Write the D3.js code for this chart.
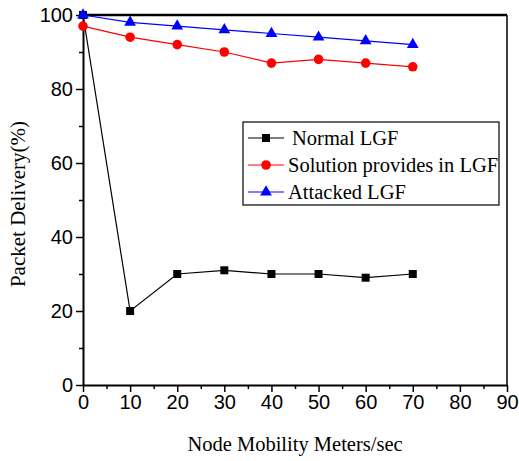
<!DOCTYPE html>
<html>
<head>
<meta charset="utf-8">
<script src="https://cdn.jsdelivr.net/npm/d3@7"></script>
<style>
  body { margin: 0; background: #fff; }
</style>
</head>
<body>
<div id="chart"></div>
<script>
// data
const speeds = [0, 10, 20, 30, 40, 50, 60, 70];
const normalLGF = [100, 20, 30, 31, 30, 30, 29, 30];
const solutionLGF = [97, 94, 92, 90, 87, 88, 87, 86];
const attackedLGF = [100, 98, 97, 96, 95, 94, 93, 92];
const seriesNames = ['Normal LGF', 'Solution provides in LGF', 'Attacked LGF'];
const xTicks = [0, 10, 20, 30, 40, 50, 60, 70, 80, 90];
const yTicks = [0, 20, 40, 60, 80, 100];

const width = 519, height = 461;
const margin = { top: 15, right: 12, bottom: 76, left: 83 };
const w = width - margin.left - margin.right;
const h = height - margin.top - margin.bottom;
const serif = '"Liberation Serif", "Times New Roman", serif';

const svg = d3.select('#chart').append('svg')
  .attr('width', width)
  .attr('height', height);

const g = svg.append('g')
  .attr('transform', `translate(${margin.left},${margin.top})`);

const x = d3.scaleLinear().domain([0, 90]).range([0, w]);
const y = d3.scaleLinear().domain([0, 100]).range([h, 0]);

// frame: thick top, thin right
g.append('line').attr('x1', 0).attr('x2', w).attr('y1', 0).attr('y2', 0)
  .attr('stroke', '#000').attr('stroke-width', 2.5);
g.append('line').attr('x1', w).attr('x2', w).attr('y1', 0).attr('y2', h)
  .attr('stroke', '#000').attr('stroke-width', 1.5);

// minor ticks
g.append('g')
  .attr('transform', `translate(0,${h})`)
  .call(d3.axisBottom(x).tickValues(d3.range(5, 90, 10)).tickSize(4).tickFormat(''))
  .call(a => a.select('.domain').remove());
g.append('g')
  .call(d3.axisLeft(y).tickValues(d3.range(10, 100, 20)).tickSize(4).tickFormat(''))
  .call(a => a.select('.domain').remove());

const xAxis = g.append('g')
  .attr('transform', `translate(0,${h})`)
  .call(d3.axisBottom(x).tickValues(xTicks).tickSize(7).tickPadding(3).tickSizeOuter(0));
xAxis.select('.domain').attr('stroke-width', 2);

const yAxis = g.append('g')
  .call(d3.axisLeft(y).tickValues(yTicks).tickSize(7).tickPadding(3).tickSizeOuter(0));
yAxis.select('.domain').attr('stroke-width', 2);

svg.selectAll('.tick line').attr('stroke-width', 1.5);
svg.selectAll('.tick text')
  .attr('font-family', 'Arial, "Liberation Sans", sans-serif')
  .attr('font-size', 20)
  .attr('fill', '#000');

// axis titles
svg.append('text')
  .attr('x', margin.left + x(45))
  .attr('y', 451)
  .attr('text-anchor', 'middle')
  .attr('font-family', serif)
  .attr('font-size', 20.5)
  .text('Node Mobility Meters/sec');

svg.append('text')
  .attr('transform', 'translate(25,204) rotate(-90)')
  .attr('text-anchor', 'middle')
  .attr('font-family', serif)
  .attr('font-size', 21)
  .text('Packet Delivery(%)');

const series = [
  { name: seriesNames[0], values: normalLGF, color: '#000', symbol: d3.symbolSquare, size: 64 },
  { name: seriesNames[1], values: solutionLGF, color: '#ff0000', symbol: d3.symbolCircle, size: 72 },
  { name: seriesNames[2], values: attackedLGF, color: '#0000ff', symbol: d3.symbolTriangle, size: 60 },
];

const line = d3.line()
  .x((d, i) => x(speeds[i]))
  .y(d => y(d));

series.forEach(s => {
  g.append('path')
    .datum(s.values)
    .attr('fill', 'none')
    .attr('stroke', s.color)
    .attr('stroke-width', 1.2)
    .attr('d', line);
});

series.forEach(s => {
  g.selectAll(null)
    .data(s.values)
    .enter()
    .append('path')
    .attr('d', d3.symbol().type(s.symbol).size(s.size))
    .attr('fill', s.color)
    .attr('transform', (d, i) => `translate(${x(speeds[i])},${y(d)})`);
});

// legend
const legend = svg.append('g').attr('transform', 'translate(243,122)');
legend.append('rect')
  .attr('width', 256).attr('height', 83)
  .attr('fill', '#fff').attr('stroke', '#000').attr('stroke-width', 1.2);

series.forEach((s, i) => {
  const row = legend.append('g').attr('transform', `translate(0,${16 + i * 27})`);
  row.append('line')
    .attr('x1', 5).attr('x2', 41)
    .attr('stroke', s.color).attr('stroke-width', 1.2);
  row.append('path')
    .attr('d', d3.symbol().type(s.symbol).size(s.size))
    .attr('fill', s.color)
    .attr('transform', 'translate(23,0)');
  row.append('text')
    .attr('x', i === 0 ? 49 : 45)
    .attr('y', 7)
    .attr('font-family', serif)
    .attr('font-size', 20.5)
    .text(s.name);
});
</script>
</body>
</html>
